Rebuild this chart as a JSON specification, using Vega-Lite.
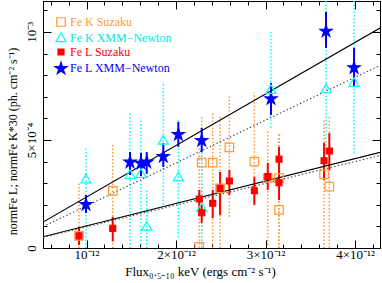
{
  "$schema": "https://vega.github.io/schema/vega-lite/v6.json",
  "width": 337,
  "height": 247,
  "autosize": {"type": "none"},
  "padding": {"left": 43, "top": 1, "right": 2, "bottom": 35},
  "background": "white",
  "config": {
    "font": "Liberation Serif",
    "view": {"stroke": "black", "strokeWidth": 1},
    "axis": {"grid": false, "domainColor": "black", "tickColor": "black", "labelColor": "black", "titleColor": "black", "labelFont": "Liberation Serif", "titleFont": "Liberation Serif", "titleFontWeight": "normal", "tickWidth": 1, "domainWidth": 1, "labelFontSize": 13, "titleFontSize": 13},
    "legend": {"labelFont": {"expr": "'Liberation Serif'"}, "labelFontSize": {"expr": "12"}, "symbolSize": 72, "symbolStrokeWidth": 1.2, "rowPadding": 1, "padding": 0, "labelOffset": 3, "labelLimit": 300,
      "labelColor": {"expr": "datum.value === 'Fe K Suzaku' ? '#ff9933' : datum.value === 'Fe K XMM−Newton' ? '#00e5e5' : datum.value === 'Fe L Suzaku' ? '#ff0000' : '#0000ff'"}}
  },
  "datasets": {
    "pts": [
      {"series": "Fe L XMM−Newton", "flux": 0.994, "norm": 2.04, "lo": 1.62, "hi": 2.45},
      {"series": "Fe L XMM−Newton", "flux": 1.486, "norm": 4.0, "lo": 3.38, "hi": 4.44},
      {"series": "Fe L XMM−Newton", "flux": 1.609, "norm": 3.95, "lo": 3.33, "hi": 4.4},
      {"series": "Fe L XMM−Newton", "flux": 1.673, "norm": 4.0, "lo": 3.43, "hi": 4.44},
      {"series": "Fe L XMM−Newton", "flux": 1.858, "norm": 4.26, "lo": 3.75, "hi": 4.86},
      {"series": "Fe L XMM−Newton", "flux": 2.026, "norm": 5.28, "lo": 4.68, "hi": 5.83},
      {"series": "Fe L XMM−Newton", "flux": 2.287, "norm": 5.0, "lo": 4.44, "hi": 5.56},
      {"series": "Fe L XMM−Newton", "flux": 3.061, "norm": 6.93, "lo": 6.16, "hi": 7.64},
      {"series": "Fe L XMM−Newton", "flux": 3.676, "norm": 10.06, "lo": 9.26, "hi": 10.93},
      {"series": "Fe L XMM−Newton", "flux": 3.989, "norm": 8.37, "lo": 7.45, "hi": 9.26},
      {"series": "Fe K XMM−Newton", "flux": 0.994, "norm": 3.18, "lo": 0, "hi": 4.69},
      {"series": "Fe K XMM−Newton", "flux": 1.486, "norm": 3.38, "lo": 0, "hi": 6.25},
      {"series": "Fe K XMM−Newton", "flux": 1.609, "norm": 3.43, "lo": 0, "hi": 6.02},
      {"series": "Fe K XMM−Newton", "flux": 1.673, "norm": 0.99, "lo": 0, "hi": 2.69},
      {"series": "Fe K XMM−Newton", "flux": 1.858, "norm": 4.97, "lo": 2.0, "hi": 7.69},
      {"series": "Fe K XMM−Newton", "flux": 2.026, "norm": 3.27, "lo": 0.5, "hi": 6.0},
      {"series": "Fe K XMM−Newton", "flux": 2.287, "norm": 1.85, "lo": 0, "hi": 4.77},
      {"series": "Fe K XMM−Newton", "flux": 3.061, "norm": 7.32, "lo": 5.56, "hi": 10.0},
      {"series": "Fe K XMM−Newton", "flux": 3.676, "norm": 7.35, "lo": 4.4, "hi": 12},
      {"series": "Fe K XMM−Newton", "flux": 3.989, "norm": 7.65, "lo": 4.4, "hi": 12},
      {"series": "Fe K Suzaku", "flux": 0.916, "norm": 0.56, "lo": 0, "hi": 3.01},
      {"series": "Fe K Suzaku", "flux": 1.293, "norm": 2.64, "lo": 0, "hi": 4.86},
      {"series": "Fe K Suzaku", "flux": 2.26, "norm": 0.05, "lo": 0, "hi": 4.63},
      {"series": "Fe K Suzaku", "flux": 2.287, "norm": 3.95, "lo": 0, "hi": 6.16},
      {"series": "Fe K Suzaku", "flux": 2.41, "norm": 3.95, "lo": 0, "hi": 6.3},
      {"series": "Fe K Suzaku", "flux": 2.492, "norm": 2.76, "lo": 0, "hi": 6.16},
      {"series": "Fe K Suzaku", "flux": 2.596, "norm": 4.66, "lo": 1.45, "hi": 7.08},
      {"series": "Fe K Suzaku", "flux": 2.875, "norm": 4.0, "lo": 2.14, "hi": 7.18},
      {"series": "Fe K Suzaku", "flux": 3.025, "norm": 3.23, "lo": 0.14, "hi": 5.46},
      {"series": "Fe K Suzaku", "flux": 3.151, "norm": 3.23, "lo": 0, "hi": 5.32},
      {"series": "Fe K Suzaku", "flux": 3.151, "norm": 1.76, "lo": 0, "hi": 5.32},
      {"series": "Fe K Suzaku", "flux": 3.654, "norm": 3.41, "lo": 0, "hi": 5.93},
      {"series": "Fe K Suzaku", "flux": 3.713, "norm": 2.84, "lo": 0, "hi": 6.16},
      {"series": "Fe L Suzaku", "flux": 0.916, "norm": 0.56, "lo": 0.14, "hi": 0.97},
      {"series": "Fe L Suzaku", "flux": 1.293, "norm": 0.91, "lo": 0.3, "hi": 1.44},
      {"series": "Fe L Suzaku", "flux": 2.26, "norm": 2.27, "lo": 1.76, "hi": 2.69},
      {"series": "Fe L Suzaku", "flux": 2.287, "norm": 1.63, "lo": 1.16, "hi": 1.99},
      {"series": "Fe L Suzaku", "flux": 2.41, "norm": 2.07, "lo": 1.39, "hi": 2.69},
      {"series": "Fe L Suzaku", "flux": 2.492, "norm": 2.76, "lo": 1.53, "hi": 3.52},
      {"series": "Fe L Suzaku", "flux": 2.596, "norm": 3.1, "lo": 2.45, "hi": 3.61},
      {"series": "Fe L Suzaku", "flux": 2.875, "norm": 2.65, "lo": 1.99, "hi": 3.29},
      {"series": "Fe L Suzaku", "flux": 3.025, "norm": 3.3, "lo": 2.69, "hi": 3.94},
      {"series": "Fe L Suzaku", "flux": 3.151, "norm": 3.02, "lo": 2.22, "hi": 3.61},
      {"series": "Fe L Suzaku", "flux": 3.151, "norm": 4.11, "lo": 3.52, "hi": 4.68},
      {"series": "Fe L Suzaku", "flux": 3.654, "norm": 4.04, "lo": 3.15, "hi": 4.86},
      {"series": "Fe L Suzaku", "flux": 3.713, "norm": 4.49, "lo": 3.61, "hi": 5.32}
    ],
    "fits": [
      {"fit": "Fe L XMM fit", "style": "solid", "flux": 0.514, "norm": 1.2},
      {"fit": "Fe L XMM fit", "style": "solid", "flux": 4.279, "norm": 10.18},
      {"fit": "Fe L Suzaku fit", "style": "solid", "flux": 0.514, "norm": 0.52},
      {"fit": "Fe L Suzaku fit", "style": "solid", "flux": 4.279, "norm": 4.43},
      {"fit": "Fe K XMM fit", "style": "dotted", "flux": 0.514, "norm": 0.99},
      {"fit": "Fe K XMM fit", "style": "dotted", "flux": 4.279, "norm": 8.45},
      {"fit": "Fe K Suzaku fit", "style": "dotted", "flux": 0.514, "norm": 0.49},
      {"fit": "Fe K Suzaku fit", "style": "dotted", "flux": 4.279, "norm": 4.28}
    ]
  },
  "resolve": {"axis": {"x": "independent", "y": "independent"}},
  "layer": [
    {
      "data": {"name": "pts"},
      "transform": [{"filter": "datum.series === 'Fe K Suzaku'"}],
      "mark": {"type": "rule", "color": "#ff9933", "strokeWidth": 1.5, "strokeDash": [1.5, 2], "clip": true},
      "encoding": {
        "x": {"field": "flux", "type": "quantitative", "scale": {"domain": [0.514, 4.279], "nice": false, "zero": false},
          "axis": {"orient": "bottom", "values": [0.6, 0.8, 1, 1.2, 1.4, 1.6, 1.8, 2, 2.2, 2.4, 2.6, 2.8, 3, 3.2, 3.4, 3.6, 3.8, 4, 4.2],
            "labelExpr": "datum.value == 1 ? '10⁻¹²' : (datum.value == 2 || datum.value == 3 || datum.value == 4) ? datum.value + '×10⁻¹²' : ''",
            "tickSize": {"condition": {"test": "datum.value == 1 || datum.value == 2 || datum.value == 3 || datum.value == 4", "value": -8}, "value": -4},
            "labelPadding": 8, "labelOverlap": false, "labelFlush": false, "labelBound": false,
            "title": "Flux₀.₅₋₁₀ keV (ergs cm⁻² s⁻¹)", "titleX": 157, "titleY": 23, "titleBaseline": "middle", "titleAlign": "center", "titleAnchor": null}},
        "y": {"field": "lo", "type": "quantitative", "scale": {"domain": [0, 11.43], "nice": false, "zero": false},
          "axis": {"orient": "left", "values": [0, 1, 2, 3, 4, 5, 6, 7, 8, 9, 10, 11],
            "labelExpr": "datum.value == 0 ? '0' : datum.value == 5 ? '5×10⁻⁴' : datum.value == 10 ? '10⁻³' : ''",
            "tickSize": {"condition": {"test": "datum.value == 0 || datum.value == 5 || datum.value == 10", "value": -8}, "value": -4},
            "labelAngle": -90, "labelAlign": "center", "labelBaseline": "bottom", "labelPadding": 13, "labelOverlap": false, "labelFlush": false, "labelBound": false,
            "title": "normFe L; normFe K*30 (ph. cm⁻² s⁻¹)", "titleFontSize": 12, "titleX": -31, "titleY": 140, "titleAngle": -90, "titleAlign": "center", "titleBaseline": "middle"}},
        "y2": {"field": "hi"}
      }
    },
    {
      "data": {"name": "pts"},
      "transform": [{"filter": "datum.series === 'Fe K XMM−Newton'"}],
      "mark": {"type": "rule", "color": "#00ffff", "strokeWidth": 1.5, "strokeDash": [1.5, 2], "clip": true},
      "encoding": {
        "x": {"field": "flux", "type": "quantitative", "scale": {"domain": [0.514, 4.279], "nice": false, "zero": false}, "axis": null},
        "y": {"field": "lo", "type": "quantitative", "scale": {"domain": [0, 11.43], "nice": false, "zero": false}, "axis": null},
        "y2": {"field": "hi"}
      }
    },
    {
      "data": {"name": "pts"},
      "transform": [{"filter": "datum.series === 'Fe L Suzaku'"}],
      "mark": {"type": "rule", "color": "#ff0000", "strokeWidth": 2, "clip": true},
      "encoding": {
        "x": {"field": "flux", "type": "quantitative", "scale": {"domain": [0.514, 4.279], "nice": false, "zero": false}, "axis": null},
        "y": {"field": "lo", "type": "quantitative", "scale": {"domain": [0, 11.43], "nice": false, "zero": false}, "axis": null},
        "y2": {"field": "hi"}
      }
    },
    {
      "data": {"name": "pts"},
      "transform": [{"filter": "datum.series === 'Fe L XMM−Newton'"}],
      "mark": {"type": "rule", "color": "#0000ff", "strokeWidth": 2, "clip": true},
      "encoding": {
        "x": {"field": "flux", "type": "quantitative", "scale": {"domain": [0.514, 4.279], "nice": false, "zero": false}, "axis": null},
        "y": {"field": "lo", "type": "quantitative", "scale": {"domain": [0, 11.43], "nice": false, "zero": false}, "axis": null},
        "y2": {"field": "hi"}
      }
    },
    {
      "data": {"name": "fits"},
      "transform": [{"filter": "datum.style === 'solid'"}],
      "mark": {"type": "line", "color": "black", "strokeWidth": 1.2, "clip": true},
      "encoding": {
        "x": {"field": "flux", "type": "quantitative", "scale": {"domain": [0.514, 4.279], "nice": false, "zero": false},
          "axis": {"orient": "top", "values": [0.6, 0.8, 1, 1.2, 1.4, 1.6, 1.8, 2, 2.2, 2.4, 2.6, 2.8, 3, 3.2, 3.4, 3.6, 3.8, 4, 4.2], "labels": false, "title": null,
            "tickSize": {"condition": {"test": "datum.value == 1 || datum.value == 2 || datum.value == 3 || datum.value == 4", "value": -8}, "value": -4}}},
        "y": {"field": "norm", "type": "quantitative", "scale": {"domain": [0, 11.43], "nice": false, "zero": false},
          "axis": {"orient": "right", "values": [0, 1, 2, 3, 4, 5, 6, 7, 8, 9, 10, 11], "labels": false, "title": null,
            "tickSize": {"condition": {"test": "datum.value == 0 || datum.value == 5 || datum.value == 10", "value": -8}, "value": -4}}},
        "detail": {"field": "fit"}
      }
    },
    {
      "data": {"name": "fits"},
      "transform": [{"filter": "datum.style === 'dotted'"}],
      "mark": {"type": "line", "color": "#444444", "strokeWidth": 1.2, "strokeDash": [1.3, 2.4], "clip": true},
      "encoding": {
        "x": {"field": "flux", "type": "quantitative", "scale": {"domain": [0.514, 4.279], "nice": false, "zero": false}, "axis": null},
        "y": {"field": "norm", "type": "quantitative", "scale": {"domain": [0, 11.43], "nice": false, "zero": false}, "axis": null},
        "detail": {"field": "fit"}
      }
    },
    {
      "data": {"name": "pts"},
      "mark": {"type": "point", "size": 72, "strokeWidth": 1.2, "opacity": 1, "clip": true},
      "encoding": {
        "x": {"field": "flux", "type": "quantitative", "scale": {"domain": [0.514, 4.279], "nice": false, "zero": false}, "axis": null},
        "y": {"field": "norm", "type": "quantitative", "scale": {"domain": [0, 11.43], "nice": false, "zero": false}, "axis": null},
        "stroke": {"field": "series", "type": "nominal",
          "scale": {"domain": ["Fe K Suzaku", "Fe K XMM−Newton", "Fe L Suzaku", "Fe L XMM−Newton"], "range": ["#ff9933", "#00ffff", "#ff0000", "#0000ff"]},
          "legend": {"title": null, "orient": "none", "legendX": 12, "legendY": 15}},
        "fill": {"field": "series", "type": "nominal",
          "scale": {"domain": ["Fe K Suzaku", "Fe K XMM−Newton", "Fe L Suzaku", "Fe L XMM−Newton"], "range": ["transparent", "transparent", "#ff0000", "#0000ff"]},
          "legend": {"title": null, "orient": "none", "legendX": 12, "legendY": 15}},
        "shape": {"field": "series", "type": "nominal",
          "scale": {"domain": ["Fe K Suzaku", "Fe K XMM−Newton", "Fe L Suzaku", "Fe L XMM−Newton"], "range": ["square", "M0,-1.2L1.2,0.85L-1.2,0.85Z", "M-0.7,-0.7L0.7,-0.7L0.7,0.7L-0.7,0.7Z", "M0,-1.36L0.335,-0.318L1.427,-0.321L0.542,0.319L0.882,1.357L0,0.713L-0.882,1.357L-0.542,0.319L-1.427,-0.321L-0.335,-0.318Z"]},
          "legend": {"title": null, "orient": "none", "legendX": 12, "legendY": 15}}
      }
    }
  ]
}
